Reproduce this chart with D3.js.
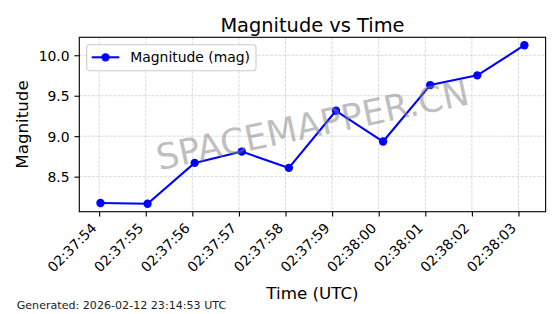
<!DOCTYPE html>
<html>
<head>
<meta charset="utf-8">
<script src="https://cdn.jsdelivr.net/npm/d3@7"></script>
<style>
  html, body { margin: 0; padding: 0; background: #fff; }
  svg { display: block; font-family: 'DejaVu Sans', sans-serif; }
</style>
</head>
<body>
<div class="graph"><svg></svg></div>
<script>
const times = [
  '02:37:54.028', '02:37:55.039', '02:37:56.050', '02:37:57.061', '02:37:58.072',
  '02:37:59.083', '02:38:00.094', '02:38:01.105', '02:38:02.116', '02:38:03.127'
]
const magnitudes = [8.174, 8.165, 8.670, 8.810, 8.608, 9.314, 8.934, 9.632, 9.752, 10.124]
const yTicks = [8.5, 9.0, 9.5, 10.0]

const seriesLabel = 'Magnitude (mag)'
const titleText = 'Magnitude vs Time'
const xLabelText = 'Time (UTC)'
const yLabelText = 'Magnitude'
const footerText = 'Generated: 2026-02-12 23:14:53 UTC'
const watermarkText = 'SPACEMAPPER.CN'

const width = 560
const height = 314
const plot = { left: 79.3, right: 545.6, top: 37.3, bottom: 211.7 }
const blue = '#0000ff'

const parseTime = d3.utcParse('%H:%M:%S.%L')
const data = times.map((t, i) => ({ t: parseTime(t), v: magnitudes[i] }))

/**
 * Pads an extent by 5% on each side, like matplotlib's default margins.
 *
 * @param {number[]} ext The [min, max] extent
 * @returns {number[]} The padded extent
 */
function pad (ext) {
  const m = (ext[1] - ext[0]) * 0.05
  return [ext[0] - m, ext[1] + m]
}

const tExt = d3.extent(data, d => +d.t)
const xScale = d3.scaleUtc()
  .domain(pad(tExt).map(v => new Date(v)))
  .range([plot.left, plot.right])

const yScale = d3.scaleLinear()
  .domain(pad(d3.extent(magnitudes)))
  .range([plot.bottom, plot.top])

const svg = d3.select('.graph').select('svg')
  .attr('width', width)
  .attr('height', height)

const xTicks = xScale.ticks(d3.utcSecond.every(1))

// grid
const grid = svg.append('g')
  .attr('stroke', '#b0b0b0')
  .attr('stroke-opacity', 0.6)
  .attr('stroke-width', 0.8)
  .attr('stroke-dasharray', '2.96,1.28')

grid.selectAll('.gx')
  .data(xTicks)
  .join('line')
  .attr('x1', d => xScale(d))
  .attr('x2', d => xScale(d))
  .attr('y1', plot.top)
  .attr('y2', plot.bottom)

grid.selectAll('.gy')
  .data(yTicks)
  .join('line')
  .attr('class', 'gy')
  .attr('x1', plot.left)
  .attr('x2', plot.right)
  .attr('y1', d => yScale(d))
  .attr('y2', d => yScale(d))

// series
const line = d3.line()
  .x(d => xScale(d.t))
  .y(d => yScale(d.v))

svg.append('path')
  .datum(data)
  .attr('d', line)
  .attr('fill', 'none')
  .attr('stroke', blue)
  .attr('stroke-width', 2.08)
  .attr('stroke-linejoin', 'round')

svg.append('g')
  .selectAll('circle')
  .data(data)
  .join('circle')
  .attr('cx', d => xScale(d.t))
  .attr('cy', d => yScale(d.v))
  .attr('r', 4.17)
  .attr('fill', blue)

// watermark
svg.append('text')
  .text(watermarkText)
  .attr('transform', 'translate(' + ((plot.left + plot.right) / 2) + ',' + ((plot.top + plot.bottom) / 2) + ') rotate(-12)')
  .attr('text-anchor', 'middle')
  .attr('dy', '0.36em')
  .attr('font-size', 35.5)
  .attr('fill', 'gray')
  .attr('fill-opacity', 0.5)

// axes
const xAxis = d3.axisBottom(xScale)
  .tickValues(xTicks)
  .tickFormat(d3.utcFormat('%H:%M:%S'))
  .tickSizeInner(4.86)
  .tickSizeOuter(0)

const gx = svg.append('g')
  .attr('transform', 'translate(0,' + plot.bottom + ')')
  .call(xAxis)

gx.select('.domain').remove()
gx.selectAll('line').attr('stroke-width', 1.11)
gx.selectAll('text')
  .attr('font-size', 13.9)
  .attr('font-family', 'DejaVu Sans')
  .attr('fill', '#000')
  .attr('text-anchor', 'end')
  .attr('y', null)
  .attr('dy', null)
  .attr('transform', 'translate(-2.05,17.2) rotate(-45)')

const yAxis = d3.axisLeft(yScale)
  .tickValues(yTicks)
  .tickFormat(d3.format('.1f'))
  .tickSizeInner(4.86)
  .tickSizeOuter(0)
  .tickPadding(4.86)

const gy = svg.append('g')
  .attr('transform', 'translate(' + plot.left + ',0)')
  .call(yAxis)

gy.select('.domain').remove()
gy.selectAll('line').attr('stroke-width', 1.11)
gy.selectAll('text')
  .attr('font-size', 13.9)
  .attr('font-family', 'DejaVu Sans')
  .attr('fill', '#000')
  .attr('dy', '0.36em')

// frame
svg.append('rect')
  .attr('x', plot.left)
  .attr('y', plot.top)
  .attr('width', plot.right - plot.left)
  .attr('height', plot.bottom - plot.top)
  .attr('fill', 'none')
  .attr('stroke', '#000')
  .attr('stroke-width', 1.11)

// legend
const lg = svg.append('g').attr('transform', 'translate(86.7,44.7)')
lg.append('rect')
  .attr('width', 169.3)
  .attr('height', 26)
  .attr('rx', 2.8)
  .attr('fill', '#fff')
  .attr('fill-opacity', 0.8)
  .attr('stroke', '#cccccc')
  .attr('stroke-width', 1.11)
lg.append('line')
  .attr('x1', 5)
  .attr('x2', 32.6)
  .attr('y1', 12.6)
  .attr('y2', 12.6)
  .attr('stroke', blue)
  .attr('stroke-width', 2.08)
lg.append('circle')
  .attr('cx', 18.8)
  .attr('cy', 12.6)
  .attr('r', 4.17)
  .attr('fill', blue)
lg.append('text')
  .text(seriesLabel)
  .attr('x', 43.6)
  .attr('y', 12.6)
  .attr('dy', '0.36em')
  .attr('font-size', 13.9)

// labels
svg.append('text')
  .text(titleText)
  .attr('x', (plot.left + plot.right) / 2)
  .attr('y', 32.3)
  .attr('text-anchor', 'middle')
  .attr('font-size', 19.4)

svg.append('text')
  .text(xLabelText)
  .attr('x', (plot.left + plot.right) / 2)
  .attr('y', 298.5)
  .attr('text-anchor', 'middle')
  .attr('font-size', 16.7)

svg.append('text')
  .text(yLabelText)
  .attr('transform', 'translate(28,' + ((plot.top + plot.bottom) / 2) + ') rotate(-90)')
  .attr('text-anchor', 'middle')
  .attr('font-size', 16.7)

svg.append('text')
  .text(footerText)
  .attr('x', 16.7)
  .attr('y', 309.3)
  .attr('font-size', 11.1)
  .attr('fill', '#222')
</script>
</body>
</html>
